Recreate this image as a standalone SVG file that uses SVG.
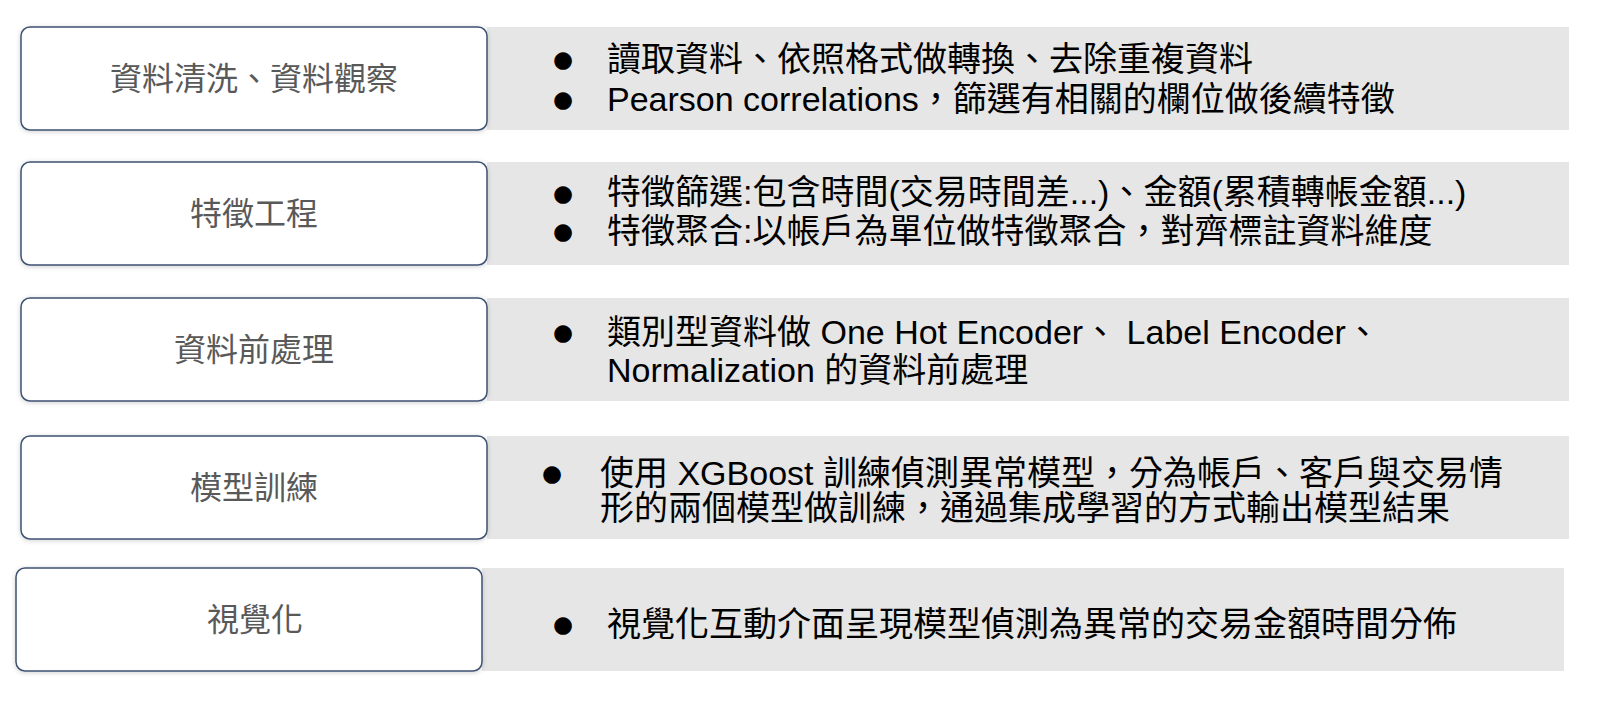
<svg xmlns="http://www.w3.org/2000/svg" width="1600" height="706" viewBox="0 0 1600 706">
<defs>
<filter id="sh" x="-5%" y="-20%" width="110%" height="140%">
<feDropShadow dx="0" dy="1" stdDeviation="2.5" flood-color="#000" flood-opacity="0.18"/>
</filter>
</defs>
<style>
.panel{fill:#e6e6e6}
.box{fill:#ffffff;stroke:#3e5272;stroke-width:1.5;filter:url(#sh)}
.lbl{font-family:"Noto Sans CJK TC","Noto Sans CJK SC",sans-serif;font-size:32px;fill:#595959;text-anchor:middle}
.txt{font-family:"Liberation Sans","Noto Sans CJK TC",sans-serif;font-size:34px;fill:#000000}
.bul{font-family:"DejaVu Sans",sans-serif;font-size:23px;fill:#000000;text-anchor:middle}
</style>
<rect width="1600" height="706" fill="#ffffff"/>
<g id="row1">
<rect class="panel" x="487" y="27" width="1082" height="103"/>
<rect class="box" x="21" y="27" width="466" height="103" rx="9"/>
<text class="lbl" x="254" y="90">資料清洗、資料觀察</text>
<text class="bul" x="563" y="67">●</text>
<text class="txt" x="607" y="71">讀取資料、依照格式做轉換、去除重複資料</text>
<text class="bul" x="563" y="107">●</text>
<text class="txt" x="607" y="111">Pearson correlations，篩選有相關的欄位做後續特徵</text>
</g>
<g id="row2">
<rect class="panel" x="487" y="162" width="1082" height="103"/>
<rect class="box" x="21" y="162" width="466" height="103" rx="9"/>
<text class="lbl" x="254" y="225">特徵工程</text>
<text class="bul" x="563" y="201">●</text>
<text class="txt" x="607" y="204">特徵篩選:包含時間(交易時間差...)、金額(累積轉帳金額...)</text>
<text class="bul" x="563" y="239">●</text>
<text class="txt" x="607" y="243">特徵聚合:以帳戶為單位做特徵聚合，對齊標註資料維度</text>
</g>
<g id="row3">
<rect class="panel" x="487" y="298" width="1082" height="103"/>
<rect class="box" x="21" y="298" width="466" height="103" rx="9"/>
<text class="lbl" x="254" y="361">資料前處理</text>
<text class="bul" x="563" y="340">●</text>
<text class="txt" x="607" y="344">類別型資料做 One Hot Encoder、 Label Encoder、</text>
<text class="txt" x="607" y="382">Normalization 的資料前處理</text>
</g>
<g id="row4">
<rect class="panel" x="487" y="436" width="1082" height="103"/>
<rect class="box" x="21" y="436" width="466" height="103" rx="9"/>
<text class="lbl" x="254" y="499">模型訓練</text>
<text class="bul" x="552" y="481">●</text>
<text class="txt" x="600" y="485">使用 XGBoost 訓練偵測異常模型，分為帳戶、客戶與交易情</text>
<text class="txt" x="600" y="520">形的兩個模型做訓練，通過集成學習的方式輸出模型結果</text>
</g>
<g id="row5">
<rect class="panel" x="482" y="568" width="1082" height="103"/>
<rect class="box" x="16" y="568" width="466" height="103" rx="9"/>
<text class="lbl" x="255" y="631">視覺化</text>
<text class="bul" x="563" y="632">●</text>
<text class="txt" x="607" y="636">視覺化互動介面呈現模型偵測為異常的交易金額時間分佈</text>
</g>
<g id="connectors"/>
</svg>
